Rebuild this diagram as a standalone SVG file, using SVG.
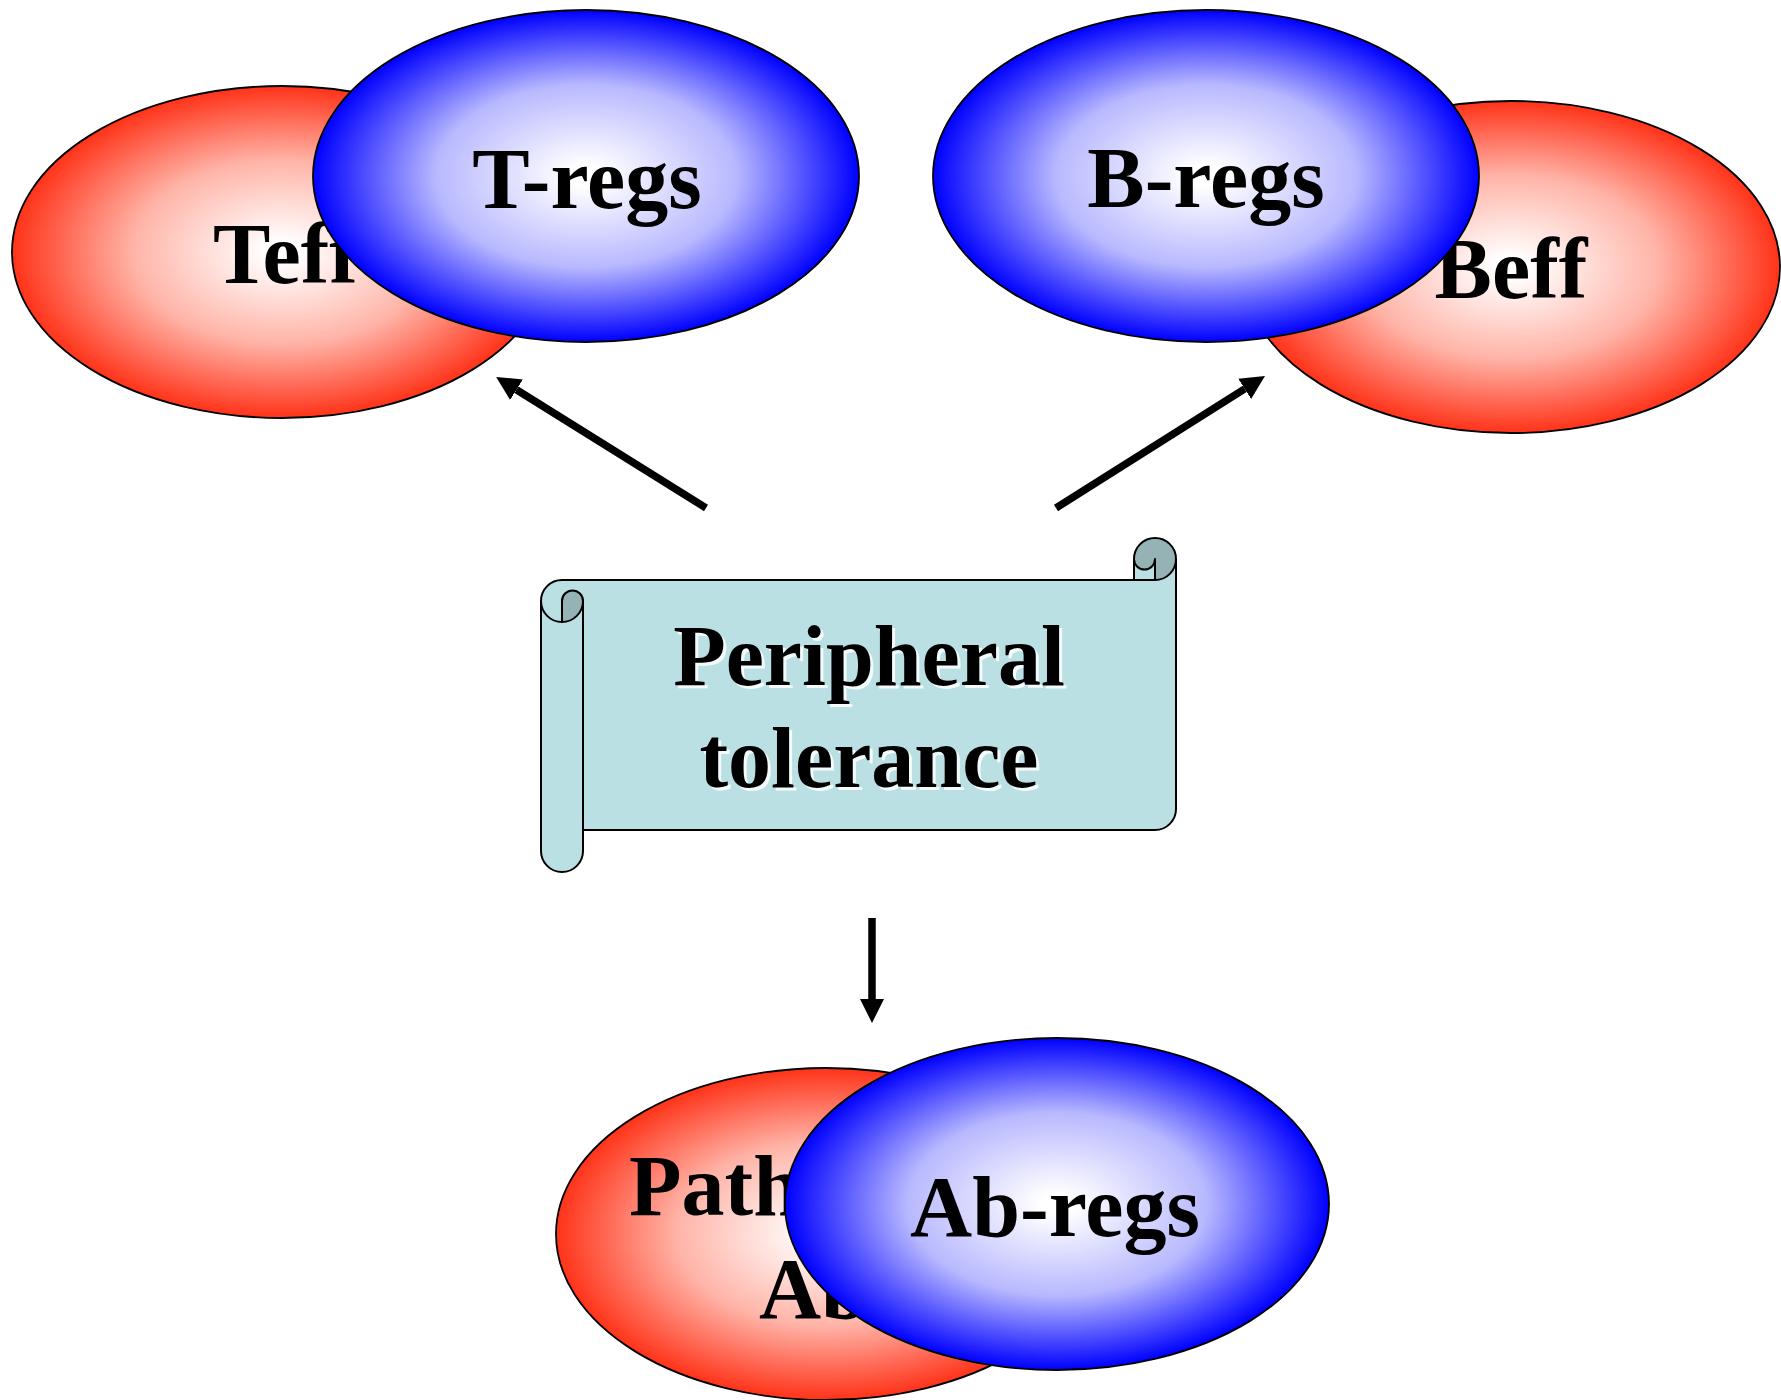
<svg xmlns="http://www.w3.org/2000/svg" width="1781" height="1400" viewBox="0 0 1781 1400">
<style>
.lbl{font-family:"Liberation Serif","Times New Roman",serif;font-weight:bold;font-size:86px;fill:#000}
.mid{text-anchor:middle}
.ell{stroke:#000;stroke-width:1.8}
.red{fill:url(#gRed)}
.blue{fill:url(#gBlue)}
.arr{stroke:#000;stroke-width:7.5;fill:none;marker-end:url(#head)}
.shadow{fill:#fff;opacity:0.85}
</style>
<defs>
<radialGradient id="gRed" cx="0.5" cy="0.5" r="0.5">
<stop offset="0.06" stop-color="#ffffff"/>
<stop offset="0.55" stop-color="#ffb4a8"/>
<stop offset="1" stop-color="#ff3319"/>
</radialGradient>
<radialGradient id="gBlue" cx="0.5" cy="0.5" r="0.5">
<stop offset="0.06" stop-color="#ffffff"/>
<stop offset="0.55" stop-color="#b8b8ff"/>
<stop offset="1" stop-color="#0000ff"/>
</radialGradient>
<marker id="head" viewBox="0 0 10 10" refX="0" refY="5" markerWidth="3.2" markerHeight="3.4" orient="auto" markerUnits="strokeWidth">
<path d="M0,0 L10,5 L0,10 z" fill="#000"/>
</marker>
</defs>

<g id="teff">
<ellipse class="ell red" cx="282" cy="252" rx="270" ry="166"/>
<text class="lbl" x="213" y="283">Teff</text>
</g>
<g id="tregs">
<ellipse class="ell blue" cx="586" cy="176" rx="273" ry="166"/>
<text class="lbl mid" x="587" y="208">T-regs</text>
</g>

<g id="beff">
<ellipse class="ell red" cx="1511" cy="267" rx="269" ry="166"/>
<text class="lbl mid" x="1511" y="298">Beff</text>
</g>
<g id="bregs">
<ellipse class="ell blue" cx="1206" cy="176" rx="273" ry="166"/>
<text class="lbl mid" x="1206" y="207">B-regs</text>
</g>

<g id="pathab">
<ellipse class="ell red" cx="826" cy="1234" rx="270" ry="166"/>
<text class="lbl" x="629" y="1215">Path</text>
<text class="lbl" x="759" y="1318">Ab</text>
</g>
<g id="abregs">
<ellipse class="ell blue" cx="1057" cy="1204" rx="272" ry="166"/>
<text class="lbl mid" x="1055" y="1236">Ab-regs</text>
</g>

<g id="peripheral">
<path d="M1176,559 A21,21 0 0 1 1155,580 L1155,559 A10.5,10.5 0 0 1 1134,559 L1134,580 L562,580 A21,21 0 0 0 541,601 L541,851 A21,21 0 0 0 583,851 L583,830 L1155,830 A21,21 0 0 0 1176,809 Z" fill="#bbe0e3"/>
<path d="M562,622 A21,21 0 0 0 583,601 A10.5,10.5 0 0 0 562,601 Z M1155,580 A21,21 0 1 0 1134,559 A10.5,10.5 0 0 0 1155,559 Z" fill="#95b3b5"/>
<path d="M541,601 A21,21 0 0 1 562,580 L1134,580 L1134,559 A21,21 0 0 1 1176,559 L1176,809 A21,21 0 0 1 1155,830 L583,830 L583,851 A21,21 0 0 1 541,851 Z M1134,580 L1155,580 A21,21 0 0 0 1176,559 M1155,580 L1155,559 A10.5,10.5 0 0 1 1134,559 M562,622 L562,601 A10.5,10.5 0 0 1 583,601 A21,21 0 0 1 541,601 M583,601 L583,830" fill="none" stroke="#000" stroke-width="2" stroke-linejoin="round"/>
<text class="lbl mid shadow" x="872" y="688">Peripheral</text>
<text class="lbl mid" x="869" y="685">Peripheral</text>
<text class="lbl mid shadow" x="872" y="790">tolerance</text>
<text class="lbl mid" x="869" y="787">tolerance</text>
</g>

<g id="connectors">
<line class="arr" x1="706" y1="508" x2="516.5" y2="389.7"/>
<line class="arr" x1="1056" y1="508" x2="1244.7" y2="388.8"/>
<line class="arr" x1="872" y1="918" x2="872" y2="999"/>
</g>
</svg>
